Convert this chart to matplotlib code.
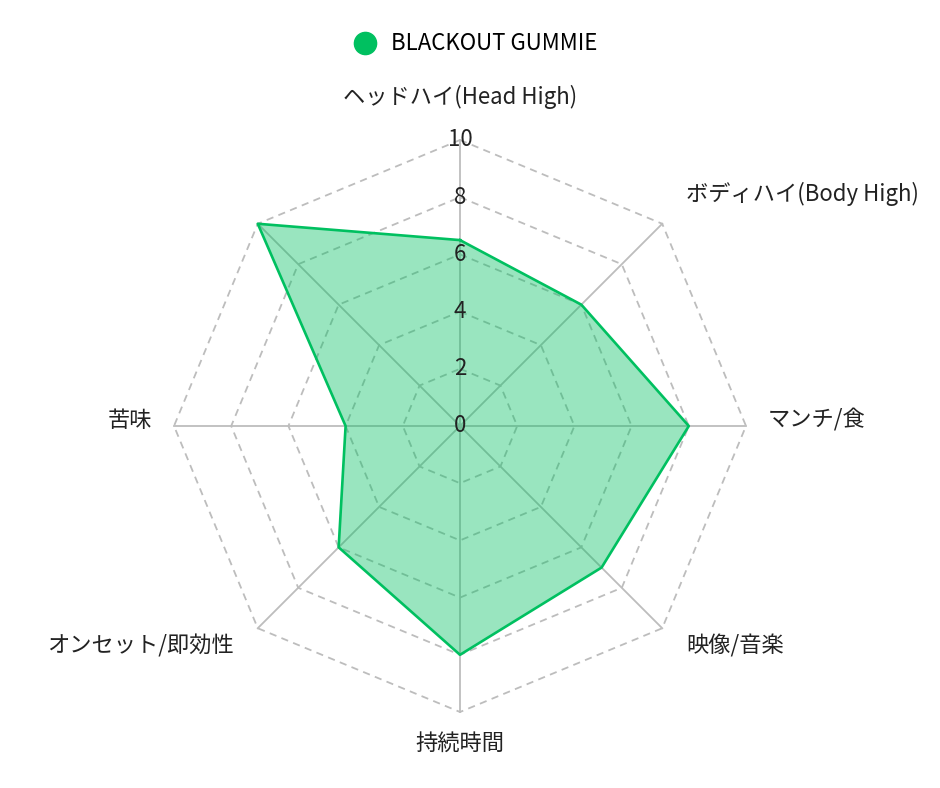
import numpy as np
import matplotlib.pyplot as plt
from matplotlib.lines import Line2D

plt.rcParams['font.family'] = ['Noto Sans CJK JP', 'DejaVu Sans']

# --- data ---
labels = ['ヘッドハイ(Head High)', 'ボディハイ(Body High)', 'マンチ/食', '映像/音楽',
          '持続時間', 'オンセット/即効性', '苦味', '']
values = [6.5, 6, 8, 7, 8, 6, 4, 10]
series_name = 'BLACKOUT GUMMIE'
rings = [2, 4, 6, 8, 10]
max_val = 10

green = '#00c060'
grid_col = '#bdbdbd'

fig = plt.figure(figsize=(9.4, 7.88), dpi=100)
ax = fig.add_axes([0, 0, 1, 1])

# center (460, 426) px, radius 286 px -> 10 units = 286 px
scale = max_val / 286.0
cx, cy = 460, 426
ax.set_xlim(-cx * scale, (940 - cx) * scale)
ax.set_ylim(-(788 - cy) * scale, cy * scale)
ax.axis('off')

n = len(labels)
angles = np.pi / 2 - np.arange(n) * 2 * np.pi / n
ca, sa = np.cos(angles), np.sin(angles)

# dashed polygon rings
for r in rings:
    ax.plot(np.append(r * ca, r * ca[0]), np.append(r * sa, r * sa[0]),
            color=grid_col, lw=1.3, ls=(0, (4, 3)), zorder=1)
# spokes
for c, s in zip(ca, sa):
    ax.plot([0, max_val * c], [0, max_val * s], color=grid_col, lw=1.3, zorder=1)

# data polygon
v = np.array(values, dtype=float)
xs, ys = v * ca, v * sa
ax.fill(xs, ys, color=green, alpha=0.4, lw=0, zorder=2)
ax.plot(np.append(xs, xs[0]), np.append(ys, ys[0]), color=green, lw=1.9, zorder=3)

# ring value labels
for r in [0] + rings:
    ax.text(0, r, str(r), ha='center', va='center', fontsize=16, color='#222222', zorder=4)

# axis labels
for lab, c, s in zip(labels, ca, sa):
    if not lab:
        continue
    if abs(s) < 0.1:
        r = 10.77
    elif abs(c) < 0.1:
        r = 11.3
    else:
        r = 11.18
    ha = 'center' if abs(c) < 0.1 else ('left' if c > 0 else 'right')
    ax.text(r * c, r * s + 0.2, lab, ha=ha, va='center', fontsize=16, color='#222222')

handle = Line2D([], [], ls='none', marker='o', markersize=16, color=green)
fig.legend([handle], [series_name], loc='center', bbox_to_anchor=(0.5, 1 - 44 / 788),
           frameon=False, fontsize=16, handletextpad=0.2)

fig.savefig('out.png', dpi=100)
